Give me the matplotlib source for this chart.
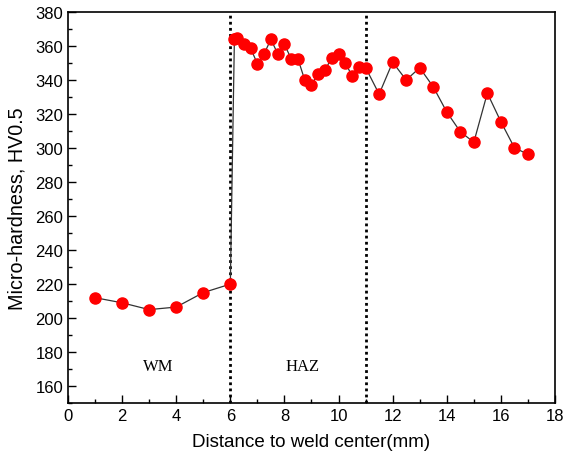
import matplotlib
matplotlib.use("Agg")
import matplotlib.pyplot as plt
from matplotlib.ticker import MultipleLocator

# weld metal zone
wm_x = [1, 2, 3, 4, 5, 6]
wm_hv = [212, 209, 205, 206.5, 215, 220]

# heat affected zone and base metal
haz_x = [6.15, 6.25, 6.5, 6.75, 7.0, 7.25, 7.5, 7.75, 8.0, 8.25, 8.5, 8.75, 9.0,
         9.25, 9.5, 9.75, 10.0, 10.25, 10.5, 10.75, 11.0,
         11.5, 12.0, 12.5, 13.0, 13.5, 14.0, 14.5, 15.0, 15.5, 16.0, 16.5, 17.0]
haz_hv = [364, 364.6, 361, 358.7, 349.5, 355.4, 364, 355.4, 361, 352.4, 352.4, 340, 337,
          343.8, 345.8, 353.2, 355.4, 350, 342.5, 347.7, 347.3,
          331.7, 350.5, 340, 347.2, 336, 321.2, 309.6, 303.4, 332.3, 315.5, 300.2, 296.3]

zone_lines = [6, 11]

x = wm_x + haz_x
hv = wm_hv + haz_hv

plt.rcParams['font.family'] = ['Liberation Sans', 'DejaVu Sans']
fig = plt.figure(figsize=(5.64, 4.64), dpi=100)
ax = fig.add_axes([0.1206, 0.129, 0.8634, 0.843])

ax.plot(x, hv, color='#333333', lw=0.9, zorder=2)
ax.plot(x, hv, 'o', color='red', ms=8, mec='red', zorder=3)

for xv in zone_lines:
    ax.axvline(xv, color='black', ls=(0, (1, 1.2)), lw=2, zorder=1)

ax.text(3.33, 172, 'WM', family='Liberation Serif', fontsize=12, ha='center', va='center')
ax.text(8.68, 172, 'HAZ', family='Liberation Serif', fontsize=12, ha='center', va='center')

ax.set_xlim(0, 18)
ax.set_ylim(150, 380)
ax.xaxis.set_major_locator(MultipleLocator(2))
ax.xaxis.set_minor_locator(MultipleLocator(1))
ax.yaxis.set_major_locator(MultipleLocator(20))
ax.yaxis.set_minor_locator(MultipleLocator(10))
ax.tick_params(which='both', direction='in', top=False, right=False, labelsize=12)
ax.tick_params(which='major', length=6, width=1)
ax.tick_params(which='minor', length=3, width=1)
ax.set_yticks(range(160, 381, 20))
for s in ax.spines.values():
    s.set_linewidth(1.2)

ax.set_xlabel('Distance to weld center(mm)', fontsize=13.5, labelpad=7)
ax.set_ylabel('Micro-hardness, HV0.5', fontsize=14.2, labelpad=6)

fig.savefig('out.png', dpi=100)
